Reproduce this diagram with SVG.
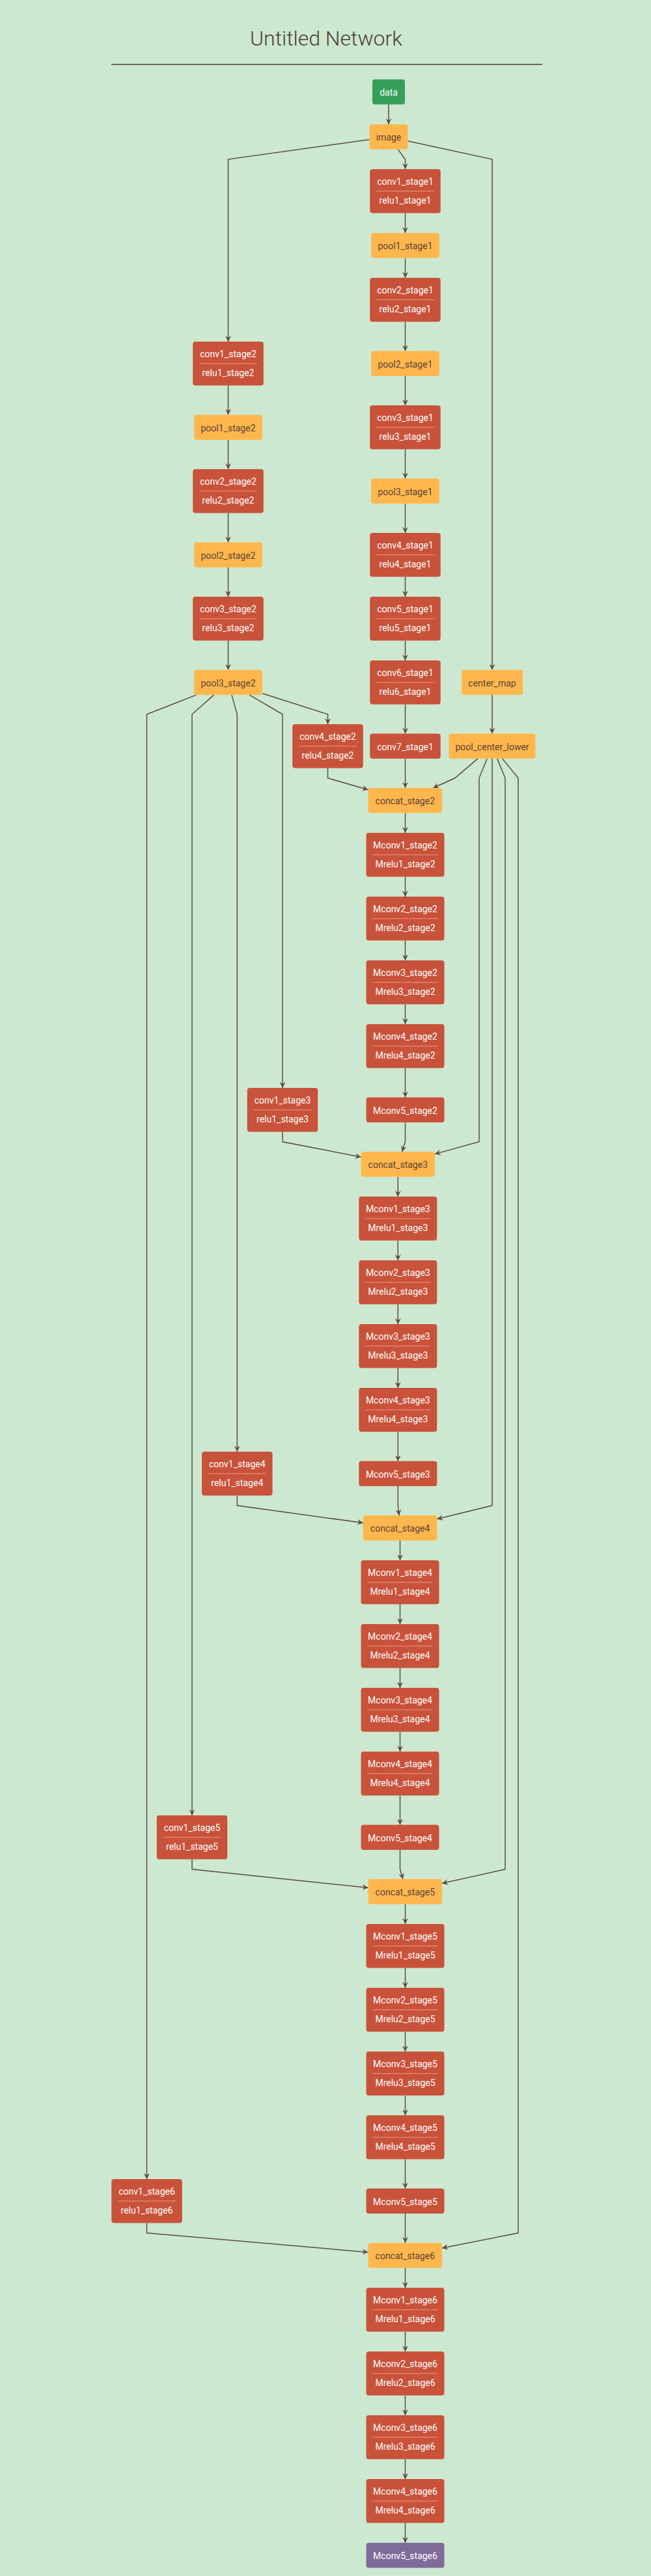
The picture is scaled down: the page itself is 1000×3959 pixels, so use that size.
<svg xmlns="http://www.w3.org/2000/svg" width="1000" height="3959" viewBox="0 0 1000 3959">
<style>
.bg{fill:#cde8d0}
.red{fill:#c9523a}
.org{fill:#ffb74d}
.grn{fill:#35a05a}
.pur{fill:#7f6b9a}
text{font-family:Roboto,"Liberation Sans",sans-serif;font-size:14px;text-anchor:middle}
.tw{fill:#ffffff}
.tb{fill:#5d4037}
.sep{stroke:#ee9b84;stroke-width:1}
.e{fill:none;stroke:#5b4b43;stroke-width:1.5;marker-end:url(#arr)}
</style>
<defs>
<marker id="arr" viewBox="0 0 10 10" refX="10" refY="5" markerUnits="userSpaceOnUse" markerWidth="9" markerHeight="9" orient="auto"><path d="M0,0 L10,5 L0,10 L3.5,5 z" fill="#5b4b43"/></marker>
</defs>
<rect class="bg" x="0" y="0" width="1000" height="3959"/>
<g id="title">
<text x="501" y="70" style="font-size:32px;font-weight:300;fill:#4e3e33">Untitled Network</text>
<line x1="171" y1="99" x2="833" y2="99" stroke="#4e3e33" stroke-width="1.3"/>
</g>
<g id="edges">
<polyline class="e" points="597,160.6 597,191"/>
<polyline class="e" points="567.5,214.4 350.5,244.8 350.5,525"/>
<polyline class="e" points="611.3,229.6 622.5,244.8 622.5,260"/>
<polyline class="e" points="626.5,216.7 756,244.8 756,1029.5"/>
<polyline class="e" points="622.5,327.6 622.5,358"/>
<polyline class="e" points="622.5,396.6 622.5,427"/>
<polyline class="e" points="622.5,494.6 622.5,539.5"/>
<polyline class="e" points="622.5,578.1 622.5,623"/>
<polyline class="e" points="622.5,690.6 622.5,735.5"/>
<polyline class="e" points="622.5,774.1 622.5,819"/>
<polyline class="e" points="622.5,886.6 622.5,917"/>
<polyline class="e" points="622.5,984.6 622.5,1015"/>
<polyline class="e" points="622.5,1082.6 622.5,1127.5"/>
<polyline class="e" points="622.5,1166.1 622.5,1211"/>
<polyline class="e" points="350.5,592.6 350.5,637.5"/>
<polyline class="e" points="350.5,676.1 350.5,721"/>
<polyline class="e" points="350.5,788.6 350.5,833.5"/>
<polyline class="e" points="350.5,872.1 350.5,917"/>
<polyline class="e" points="350.5,984.6 350.5,1029.5"/>
<polyline class="e" points="403.25,1065.7 503.5,1097.8 503.5,1113"/>
<polyline class="e" points="383.4,1068.1 434,1097.8 434,1672"/>
<polyline class="e" points="355.9,1068.1 364.3,1097.8 364.3,2231"/>
<polyline class="e" points="328.6,1068.1 295,1097.8 295,2790"/>
<polyline class="e" points="301.3,1068.1 225.5,1097.8 225.5,3349"/>
<polyline class="e" points="756,1068.1 756,1127.5"/>
<polyline class="e" points="503.5,1180.6 503.5,1195.8 565.55,1213.8"/>
<polyline class="e" points="733.6,1166.1 699,1195.8 665.2,1211"/>
<polyline class="e" points="748.1,1166.1 736,1195.8 736,1754.8 668,1773.6"/>
<polyline class="e" points="756,1166.1 756,2313.8 671.3,2334.5"/>
<polyline class="e" points="763.9,1166.1 776,1195.8 776,2872.8 679.05,2894.6"/>
<polyline class="e" points="771.8,1166.1 796,1195.8 796,3431.8 679.05,3455"/>
<polyline class="e" points="622.5,1249.6 622.5,1280"/>
<polyline class="e" points="622.5,1347.6 622.5,1378"/>
<polyline class="e" points="622.5,1445.6 622.5,1476"/>
<polyline class="e" points="622.5,1543.6 622.5,1574"/>
<polyline class="e" points="622.5,1641.6 622.5,1686.5"/>
<polyline class="e" points="622.5,1725.1 622.5,1754.8 617.6,1770"/>
<polyline class="e" points="434,1739.6 434,1754.8 554.6,1778.3"/>
<polyline class="e" points="611.3,1808.6 611.3,1839"/>
<polyline class="e" points="611.3,1906.6 611.3,1937"/>
<polyline class="e" points="611.3,2004.6 611.3,2035"/>
<polyline class="e" points="611.3,2102.6 611.3,2133"/>
<polyline class="e" points="611.3,2200.6 611.3,2245.5"/>
<polyline class="e" points="611.3,2284.1 611.3,2313.8 613.1,2329"/>
<polyline class="e" points="364.3,2298.6 364.3,2313.8 557.9,2340.5"/>
<polyline class="e" points="614.5,2367.6 614.5,2398"/>
<polyline class="e" points="614.5,2465.6 614.5,2496"/>
<polyline class="e" points="614.5,2563.6 614.5,2594"/>
<polyline class="e" points="614.5,2661.6 614.5,2692"/>
<polyline class="e" points="614.5,2759.6 614.5,2804.5"/>
<polyline class="e" points="614.5,2843.1 614.5,2872.8 618.9,2888"/>
<polyline class="e" points="295,2857.6 295,2872.8 565.55,2901.3"/>
<polyline class="e" points="622.5,2926.6 622.5,2957"/>
<polyline class="e" points="622.5,3024.6 622.5,3055"/>
<polyline class="e" points="622.5,3122.6 622.5,3153"/>
<polyline class="e" points="622.5,3220.6 622.5,3251"/>
<polyline class="e" points="622.5,3318.6 622.5,3363.5"/>
<polyline class="e" points="622.5,3402.1 622.5,3447"/>
<polyline class="e" points="225.5,3416.6 225.5,3431.8 565.55,3461.4"/>
<polyline class="e" points="622.5,3485.6 622.5,3516"/>
<polyline class="e" points="622.5,3583.6 622.5,3614"/>
<polyline class="e" points="622.5,3681.6 622.5,3712"/>
<polyline class="e" points="622.5,3779.6 622.5,3810"/>
<polyline class="e" points="622.5,3877.6 622.5,3908"/>
</g>
<g id="data"><rect class="grn" x="572" y="122" width="50" height="38.6" rx="4"/><text class="tw" x="597" y="147">data</text></g>
<g id="image"><rect class="org" x="567.5" y="191" width="59" height="38.6" rx="4"/><text class="tb" x="597" y="216">image</text></g>
<g id="conv1_stage1"><rect class="red" x="568.25" y="260" width="108.5" height="67.6" rx="4"/><line class="sep" x1="578.25" y1="293.8" x2="666.75" y2="293.8"/><text class="tw" x="622.5" y="284.3">conv1_stage1</text><text class="tw" x="622.5" y="312.8">relu1_stage1</text></g>
<g id="pool1_stage1"><rect class="org" x="570" y="358" width="105" height="38.6" rx="4"/><text class="tb" x="622.5" y="383">pool1_stage1</text></g>
<g id="conv2_stage1"><rect class="red" x="568.25" y="427" width="108.5" height="67.6" rx="4"/><line class="sep" x1="578.25" y1="460.8" x2="666.75" y2="460.8"/><text class="tw" x="622.5" y="451.3">conv2_stage1</text><text class="tw" x="622.5" y="479.8">relu2_stage1</text></g>
<g id="pool2_stage1"><rect class="org" x="570" y="539.5" width="105" height="38.6" rx="4"/><text class="tb" x="622.5" y="564.5">pool2_stage1</text></g>
<g id="conv3_stage1"><rect class="red" x="568.25" y="623" width="108.5" height="67.6" rx="4"/><line class="sep" x1="578.25" y1="656.8" x2="666.75" y2="656.8"/><text class="tw" x="622.5" y="647.3">conv3_stage1</text><text class="tw" x="622.5" y="675.8">relu3_stage1</text></g>
<g id="pool3_stage1"><rect class="org" x="570" y="735.5" width="105" height="38.6" rx="4"/><text class="tb" x="622.5" y="760.5">pool3_stage1</text></g>
<g id="conv4_stage1"><rect class="red" x="568.25" y="819" width="108.5" height="67.6" rx="4"/><line class="sep" x1="578.25" y1="852.8" x2="666.75" y2="852.8"/><text class="tw" x="622.5" y="843.3">conv4_stage1</text><text class="tw" x="622.5" y="871.8">relu4_stage1</text></g>
<g id="conv5_stage1"><rect class="red" x="568.25" y="917" width="108.5" height="67.6" rx="4"/><line class="sep" x1="578.25" y1="950.8" x2="666.75" y2="950.8"/><text class="tw" x="622.5" y="941.3">conv5_stage1</text><text class="tw" x="622.5" y="969.8">relu5_stage1</text></g>
<g id="conv6_stage1"><rect class="red" x="568.25" y="1015" width="108.5" height="67.6" rx="4"/><line class="sep" x1="578.25" y1="1048.8" x2="666.75" y2="1048.8"/><text class="tw" x="622.5" y="1039.3">conv6_stage1</text><text class="tw" x="622.5" y="1067.8">relu6_stage1</text></g>
<g id="conv7_stage1"><rect class="red" x="568.25" y="1127.5" width="108.5" height="38.6" rx="4"/><text class="tw" x="622.5" y="1152.5">conv7_stage1</text></g>
<g id="conv1_stage2"><rect class="red" x="296.25" y="525" width="108.5" height="67.6" rx="4"/><line class="sep" x1="306.25" y1="558.8" x2="394.75" y2="558.8"/><text class="tw" x="350.5" y="549.3">conv1_stage2</text><text class="tw" x="350.5" y="577.8">relu1_stage2</text></g>
<g id="pool1_stage2"><rect class="org" x="298" y="637.5" width="105" height="38.6" rx="4"/><text class="tb" x="350.5" y="662.5">pool1_stage2</text></g>
<g id="conv2_stage2"><rect class="red" x="296.25" y="721" width="108.5" height="67.6" rx="4"/><line class="sep" x1="306.25" y1="754.8" x2="394.75" y2="754.8"/><text class="tw" x="350.5" y="745.3">conv2_stage2</text><text class="tw" x="350.5" y="773.8">relu2_stage2</text></g>
<g id="pool2_stage2"><rect class="org" x="298" y="833.5" width="105" height="38.6" rx="4"/><text class="tb" x="350.5" y="858.5">pool2_stage2</text></g>
<g id="conv3_stage2"><rect class="red" x="296.25" y="917" width="108.5" height="67.6" rx="4"/><line class="sep" x1="306.25" y1="950.8" x2="394.75" y2="950.8"/><text class="tw" x="350.5" y="941.3">conv3_stage2</text><text class="tw" x="350.5" y="969.8">relu3_stage2</text></g>
<g id="pool3_stage2"><rect class="org" x="298" y="1029.5" width="105" height="38.6" rx="4"/><text class="tb" x="350.5" y="1054.5">pool3_stage2</text></g>
<g id="conv4_stage2"><rect class="red" x="449.25" y="1113" width="108.5" height="67.6" rx="4"/><line class="sep" x1="459.25" y1="1146.8" x2="547.75" y2="1146.8"/><text class="tw" x="503.5" y="1137.3">conv4_stage2</text><text class="tw" x="503.5" y="1165.8">relu4_stage2</text></g>
<g id="center_map"><rect class="org" x="709" y="1029.5" width="94" height="38.6" rx="4"/><text class="tb" x="756" y="1054.5">center_map</text></g>
<g id="pool_center_lower"><rect class="org" x="689.5" y="1127.5" width="133" height="38.6" rx="4"/><text class="tb" x="756" y="1152.5">pool_center_lower</text></g>
<g id="concat_stage2"><rect class="org" x="565.55" y="1211" width="113.5" height="38.6" rx="4"/><text class="tb" x="622.3" y="1236">concat_stage2</text></g>
<g id="Mconv1_stage2"><rect class="red" x="562.5" y="1280" width="120" height="67.6" rx="4"/><line class="sep" x1="572.5" y1="1313.8" x2="672.5" y2="1313.8"/><text class="tw" x="622.5" y="1304.3">Mconv1_stage2</text><text class="tw" x="622.5" y="1332.8">Mrelu1_stage2</text></g>
<g id="Mconv2_stage2"><rect class="red" x="562.5" y="1378" width="120" height="67.6" rx="4"/><line class="sep" x1="572.5" y1="1411.8" x2="672.5" y2="1411.8"/><text class="tw" x="622.5" y="1402.3">Mconv2_stage2</text><text class="tw" x="622.5" y="1430.8">Mrelu2_stage2</text></g>
<g id="Mconv3_stage2"><rect class="red" x="562.5" y="1476" width="120" height="67.6" rx="4"/><line class="sep" x1="572.5" y1="1509.8" x2="672.5" y2="1509.8"/><text class="tw" x="622.5" y="1500.3">Mconv3_stage2</text><text class="tw" x="622.5" y="1528.8">Mrelu3_stage2</text></g>
<g id="Mconv4_stage2"><rect class="red" x="562.5" y="1574" width="120" height="67.6" rx="4"/><line class="sep" x1="572.5" y1="1607.8" x2="672.5" y2="1607.8"/><text class="tw" x="622.5" y="1598.3">Mconv4_stage2</text><text class="tw" x="622.5" y="1626.8">Mrelu4_stage2</text></g>
<g id="Mconv5_stage2"><rect class="red" x="562.5" y="1686.5" width="120" height="38.6" rx="4"/><text class="tw" x="622.5" y="1711.5">Mconv5_stage2</text></g>
<g id="conv1_stage3"><rect class="red" x="379.75" y="1672" width="108.5" height="67.6" rx="4"/><line class="sep" x1="389.75" y1="1705.8" x2="478.25" y2="1705.8"/><text class="tw" x="434" y="1696.3">conv1_stage3</text><text class="tw" x="434" y="1724.8">relu1_stage3</text></g>
<g id="concat_stage3"><rect class="org" x="554.55" y="1770" width="113.5" height="38.6" rx="4"/><text class="tb" x="611.3" y="1795">concat_stage3</text></g>
<g id="Mconv1_stage3"><rect class="red" x="551.3" y="1839" width="120" height="67.6" rx="4"/><line class="sep" x1="561.3" y1="1872.8" x2="661.3" y2="1872.8"/><text class="tw" x="611.3" y="1863.3">Mconv1_stage3</text><text class="tw" x="611.3" y="1891.8">Mrelu1_stage3</text></g>
<g id="Mconv2_stage3"><rect class="red" x="551.3" y="1937" width="120" height="67.6" rx="4"/><line class="sep" x1="561.3" y1="1970.8" x2="661.3" y2="1970.8"/><text class="tw" x="611.3" y="1961.3">Mconv2_stage3</text><text class="tw" x="611.3" y="1989.8">Mrelu2_stage3</text></g>
<g id="Mconv3_stage3"><rect class="red" x="551.3" y="2035" width="120" height="67.6" rx="4"/><line class="sep" x1="561.3" y1="2068.8" x2="661.3" y2="2068.8"/><text class="tw" x="611.3" y="2059.3">Mconv3_stage3</text><text class="tw" x="611.3" y="2087.8">Mrelu3_stage3</text></g>
<g id="Mconv4_stage3"><rect class="red" x="551.3" y="2133" width="120" height="67.6" rx="4"/><line class="sep" x1="561.3" y1="2166.8" x2="661.3" y2="2166.8"/><text class="tw" x="611.3" y="2157.3">Mconv4_stage3</text><text class="tw" x="611.3" y="2185.8">Mrelu4_stage3</text></g>
<g id="Mconv5_stage3"><rect class="red" x="551.3" y="2245.5" width="120" height="38.6" rx="4"/><text class="tw" x="611.3" y="2270.5">Mconv5_stage3</text></g>
<g id="conv1_stage4"><rect class="red" x="310.05" y="2231" width="108.5" height="67.6" rx="4"/><line class="sep" x1="320.05" y1="2264.8" x2="408.55" y2="2264.8"/><text class="tw" x="364.3" y="2255.3">conv1_stage4</text><text class="tw" x="364.3" y="2283.8">relu1_stage4</text></g>
<g id="concat_stage4"><rect class="org" x="557.85" y="2329" width="113.5" height="38.6" rx="4"/><text class="tb" x="614.6" y="2354">concat_stage4</text></g>
<g id="Mconv1_stage4"><rect class="red" x="554.5" y="2398" width="120" height="67.6" rx="4"/><line class="sep" x1="564.5" y1="2431.8" x2="664.5" y2="2431.8"/><text class="tw" x="614.5" y="2422.3">Mconv1_stage4</text><text class="tw" x="614.5" y="2450.8">Mrelu1_stage4</text></g>
<g id="Mconv2_stage4"><rect class="red" x="554.5" y="2496" width="120" height="67.6" rx="4"/><line class="sep" x1="564.5" y1="2529.8" x2="664.5" y2="2529.8"/><text class="tw" x="614.5" y="2520.3">Mconv2_stage4</text><text class="tw" x="614.5" y="2548.8">Mrelu2_stage4</text></g>
<g id="Mconv3_stage4"><rect class="red" x="554.5" y="2594" width="120" height="67.6" rx="4"/><line class="sep" x1="564.5" y1="2627.8" x2="664.5" y2="2627.8"/><text class="tw" x="614.5" y="2618.3">Mconv3_stage4</text><text class="tw" x="614.5" y="2646.8">Mrelu3_stage4</text></g>
<g id="Mconv4_stage4"><rect class="red" x="554.5" y="2692" width="120" height="67.6" rx="4"/><line class="sep" x1="564.5" y1="2725.8" x2="664.5" y2="2725.8"/><text class="tw" x="614.5" y="2716.3">Mconv4_stage4</text><text class="tw" x="614.5" y="2744.8">Mrelu4_stage4</text></g>
<g id="Mconv5_stage4"><rect class="red" x="554.5" y="2804.5" width="120" height="38.6" rx="4"/><text class="tw" x="614.5" y="2829.5">Mconv5_stage4</text></g>
<g id="conv1_stage5"><rect class="red" x="240.75" y="2790" width="108.5" height="67.6" rx="4"/><line class="sep" x1="250.75" y1="2823.8" x2="339.25" y2="2823.8"/><text class="tw" x="295" y="2814.3">conv1_stage5</text><text class="tw" x="295" y="2842.8">relu1_stage5</text></g>
<g id="concat_stage5"><rect class="org" x="565.55" y="2888" width="113.5" height="38.6" rx="4"/><text class="tb" x="622.3" y="2913">concat_stage5</text></g>
<g id="Mconv1_stage5"><rect class="red" x="562.5" y="2957" width="120" height="67.6" rx="4"/><line class="sep" x1="572.5" y1="2990.8" x2="672.5" y2="2990.8"/><text class="tw" x="622.5" y="2981.3">Mconv1_stage5</text><text class="tw" x="622.5" y="3009.8">Mrelu1_stage5</text></g>
<g id="Mconv2_stage5"><rect class="red" x="562.5" y="3055" width="120" height="67.6" rx="4"/><line class="sep" x1="572.5" y1="3088.8" x2="672.5" y2="3088.8"/><text class="tw" x="622.5" y="3079.3">Mconv2_stage5</text><text class="tw" x="622.5" y="3107.8">Mrelu2_stage5</text></g>
<g id="Mconv3_stage5"><rect class="red" x="562.5" y="3153" width="120" height="67.6" rx="4"/><line class="sep" x1="572.5" y1="3186.8" x2="672.5" y2="3186.8"/><text class="tw" x="622.5" y="3177.3">Mconv3_stage5</text><text class="tw" x="622.5" y="3205.8">Mrelu3_stage5</text></g>
<g id="Mconv4_stage5"><rect class="red" x="562.5" y="3251" width="120" height="67.6" rx="4"/><line class="sep" x1="572.5" y1="3284.8" x2="672.5" y2="3284.8"/><text class="tw" x="622.5" y="3275.3">Mconv4_stage5</text><text class="tw" x="622.5" y="3303.8">Mrelu4_stage5</text></g>
<g id="Mconv5_stage5"><rect class="red" x="562.5" y="3363.5" width="120" height="38.6" rx="4"/><text class="tw" x="622.5" y="3388.5">Mconv5_stage5</text></g>
<g id="conv1_stage6"><rect class="red" x="171.25" y="3349" width="108.5" height="67.6" rx="4"/><line class="sep" x1="181.25" y1="3382.8" x2="269.75" y2="3382.8"/><text class="tw" x="225.5" y="3373.3">conv1_stage6</text><text class="tw" x="225.5" y="3401.8">relu1_stage6</text></g>
<g id="concat_stage6"><rect class="org" x="565.55" y="3447" width="113.5" height="38.6" rx="4"/><text class="tb" x="622.3" y="3472">concat_stage6</text></g>
<g id="Mconv1_stage6"><rect class="red" x="562.5" y="3516" width="120" height="67.6" rx="4"/><line class="sep" x1="572.5" y1="3549.8" x2="672.5" y2="3549.8"/><text class="tw" x="622.5" y="3540.3">Mconv1_stage6</text><text class="tw" x="622.5" y="3568.8">Mrelu1_stage6</text></g>
<g id="Mconv2_stage6"><rect class="red" x="562.5" y="3614" width="120" height="67.6" rx="4"/><line class="sep" x1="572.5" y1="3647.8" x2="672.5" y2="3647.8"/><text class="tw" x="622.5" y="3638.3">Mconv2_stage6</text><text class="tw" x="622.5" y="3666.8">Mrelu2_stage6</text></g>
<g id="Mconv3_stage6"><rect class="red" x="562.5" y="3712" width="120" height="67.6" rx="4"/><line class="sep" x1="572.5" y1="3745.8" x2="672.5" y2="3745.8"/><text class="tw" x="622.5" y="3736.3">Mconv3_stage6</text><text class="tw" x="622.5" y="3764.8">Mrelu3_stage6</text></g>
<g id="Mconv4_stage6"><rect class="red" x="562.5" y="3810" width="120" height="67.6" rx="4"/><line class="sep" x1="572.5" y1="3843.8" x2="672.5" y2="3843.8"/><text class="tw" x="622.5" y="3834.3">Mconv4_stage6</text><text class="tw" x="622.5" y="3862.8">Mrelu4_stage6</text></g>
<g id="Mconv5_stage6"><rect class="pur" x="562.5" y="3908" width="120" height="38.6" rx="4"/><text class="tw" x="622.5" y="3933">Mconv5_stage6</text></g>
</svg>
